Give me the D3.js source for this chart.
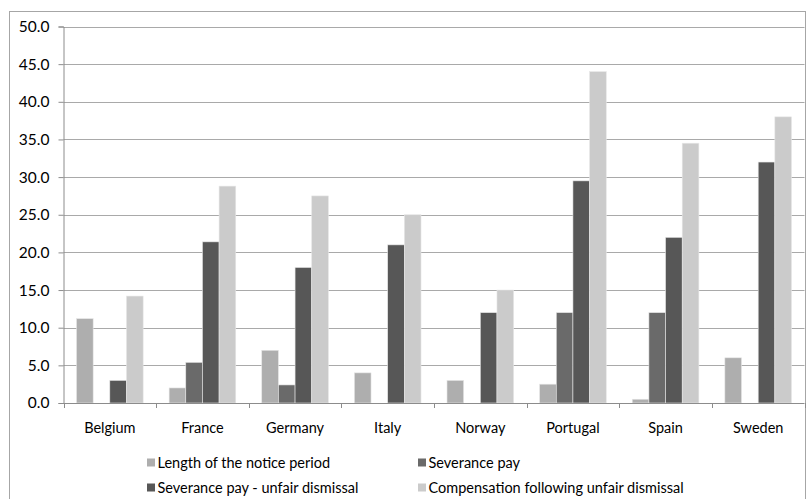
<!DOCTYPE html>
<html>
<head>
<meta charset="utf-8">
<script src="https://cdn.jsdelivr.net/npm/d3@7"></script>
<style>
  html, body { margin: 0; padding: 0; background: #fff; }
  svg { display: block; font-family: Lato, "Open Sans", "Liberation Sans", sans-serif; }
</style>
</head>
<body>
<svg id="chart" width="806" height="499"></svg>
<script>
// Categories and series
const countries = ["Belgium", "France", "Germany", "Italy", "Norway", "Portugal", "Spain", "Sweden"];
const seriesNames = [
  "Length of the notice period",
  "Severance pay",
  "Severance pay - unfair dismissal",
  "Compensation following unfair dismissal"
];
// One array per series, in country order (null = no bar)
const noticePeriod     = [11.2, 2.0, 7.0, 4.0, 3.0, 2.5, 0.5, 6.0];
const severancePay     = [null, 5.4, 2.4, null, null, 12.0, 12.0, null];
const severanceUnfair  = [3.0, 21.4, 18.0, 21.0, 12.0, 29.5, 22.0, 32.0];
const compensation     = [14.2, 28.8, 27.5, 25.0, 15.0, 44.0, 34.5, 38.0];
const yTicks = [0, 5, 10, 15, 20, 25, 30, 35, 40, 45, 50];

const seriesValues = [noticePeriod, severancePay, severanceUnfair, compensation];
const colors = ["#aeaeae", "#6a6a6a", "#575757", "#cbcbcb"];

const svg = d3.select("#chart");
const plotLeft = 63.5, plotRight = 804.5, plotTop = 26.5, plotBottom = 403;
const labelSize = 14.5;

// Outer chart frame
svg.append("rect")
  .attr("x", 9.5).attr("y", 11.5)
  .attr("width", 796).attr("height", 520)
  .attr("fill", "none").attr("stroke", "#a6a6a6").attr("stroke-width", 1);

const x0 = d3.scaleBand().domain(countries).range([plotLeft, plotRight]).padding(0);
const x1 = d3.scaleBand().domain(seriesNames).range([0, x0.bandwidth()])
  .paddingInner(0).paddingOuter(0.78);
const y = d3.scaleLinear().domain([0, 50]).range([plotBottom, plotTop]);

// Horizontal gridlines
svg.append("g")
  .selectAll("line")
  .data(yTicks.filter(d => d > 0))
  .join("line")
  .attr("x1", plotLeft).attr("x2", plotRight)
  .attr("y1", d => Math.round(y(d)) + 0.5).attr("y2", d => Math.round(y(d)) + 0.5)
  .attr("stroke", "#a9a9a9").attr("stroke-width", 1);

// Bars
const groups = svg.append("g")
  .selectAll("g")
  .data(countries)
  .join("g")
  .attr("transform", d => `translate(${x0(d)},0)`);

groups.selectAll("rect")
  .data((c, i) => seriesNames.map((s, k) => ({ s, k, v: seriesValues[k][i] })).filter(d => d.v != null && d.v > 0))
  .join("rect")
  .attr("x", d => x1(d.s))
  .attr("width", x1.bandwidth())
  .attr("y", d => y(d.v))
  .attr("height", d => plotBottom - y(d.v))
  .attr("fill", d => colors[d.k])
  .attr("stroke", "#e6e6e6").attr("stroke-width", 0.6);

// Y axis
const yAxis = svg.append("g")
  .attr("transform", `translate(${plotLeft},0)`)
  .call(d3.axisLeft(y).tickValues(yTicks).tickFormat(d3.format(".1f")).tickSize(5).tickPadding(9));
yAxis.select(".domain").attr("stroke", "#8c8c8c");
yAxis.selectAll(".tick line").attr("stroke", "#8c8c8c");
yAxis.selectAll(".tick text").attr("font-size", 15.5).attr("fill", "#000")
  .attr("font-family", "Lato, 'Open Sans', sans-serif");

// X axis with ticks on category boundaries
const xAxisG = svg.append("g").attr("transform", `translate(0,${plotBottom})`);
xAxisG.append("line")
  .attr("x1", plotLeft).attr("x2", plotRight).attr("y1", 0.5).attr("y2", 0.5)
  .attr("stroke", "#8c8c8c");
xAxisG.selectAll("line.sep")
  .data(countries.map(c => x0(c)).concat([plotRight]))
  .join("line").attr("class", "sep")
  .attr("x1", d => Math.round(d) + 0.5).attr("x2", d => Math.round(d) + 0.5)
  .attr("y1", 0).attr("y2", 5)
  .attr("stroke", "#8c8c8c");
xAxisG.selectAll("text")
  .data(countries)
  .join("text")
  .attr("x", d => x0(d) + x0.bandwidth() / 2)
  .attr("y", 30)
  .attr("text-anchor", "middle")
  .attr("font-size", labelSize)
  .attr("fill", "#000")
  .text(d => d);

// Legend: two columns, two rows
const legendPos = [
  { x: 147, y: 463 }, { x: 418, y: 463 },
  { x: 147, y: 488 }, { x: 418, y: 488 }
];
const order = [0, 1, 2, 3];
const legend = svg.append("g")
  .selectAll("g")
  .data(order)
  .join("g")
  .attr("transform", (d, i) => `translate(${legendPos[i].x},${legendPos[i].y})`);
legend.append("rect")
  .attr("x", 0).attr("y", -4.5).attr("width", 8).attr("height", 8)
  .attr("fill", d => colors[d]);
legend.append("text")
  .attr("x", 10.5).attr("y", 5)
  .attr("font-size", labelSize)
  .attr("fill", "#000")
  .text(d => seriesNames[d]);
</script>
</body>
</html>
